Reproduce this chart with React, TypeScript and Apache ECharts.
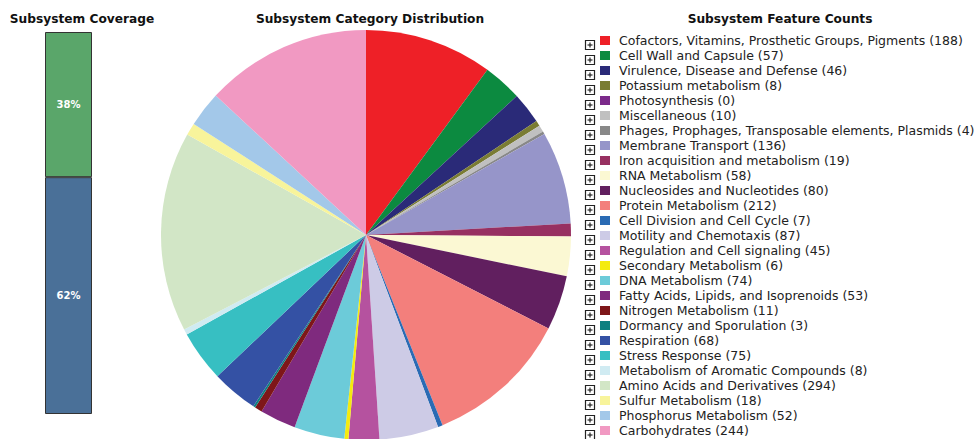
import React, { useEffect, useRef } from "react";
import * as echarts from "echarts";

const categories = [
  "Cofactors, Vitamins, Prosthetic Groups, Pigments",
  "Cell Wall and Capsule",
  "Virulence, Disease and Defense",
  "Potassium metabolism",
  "Photosynthesis",
  "Miscellaneous",
  "Phages, Prophages, Transposable elements, Plasmids",
  "Membrane Transport",
  "Iron acquisition and metabolism",
  "RNA Metabolism",
  "Nucleosides and Nucleotides",
  "Protein Metabolism",
  "Cell Division and Cell Cycle",
  "Motility and Chemotaxis",
  "Regulation and Cell signaling",
  "Secondary Metabolism",
  "DNA Metabolism",
  "Fatty Acids, Lipids, and Isoprenoids",
  "Nitrogen Metabolism",
  "Dormancy and Sporulation",
  "Respiration",
  "Stress Response",
  "Metabolism of Aromatic Compounds",
  "Amino Acids and Derivatives",
  "Sulfur Metabolism",
  "Phosphorus Metabolism",
  "Carbohydrates",
];

const counts = [
  188, 57, 46, 8, 0, 10, 4, 136, 19, 58, 80, 212, 7, 87, 45, 6, 74, 53, 11, 3,
  68, 75, 8, 294, 18, 52, 244,
];

const colors = [
  "#ee2027", "#0c8a40", "#2a2a78", "#7a7c33", "#7b2a8a", "#c0c0c0", "#888888",
  "#9695c9", "#973061", "#fbf8d3", "#611f5f", "#f37f7c", "#2a6bb4", "#cdcbe6",
  "#b5529f", "#f4eb0f", "#6ccbd9", "#7f2a7e", "#7e1619", "#0e8080", "#3451a4",
  "#37bfc2", "#d0ebf2", "#d2e6c6", "#f8f49b", "#a3c8e9", "#f199c2",
];

const coverageLabels = ["Coverage"];
const coverageIn = [38];
const coverageOut = [62];

const FONT = "DejaVu Sans";

export default function App() {
  const ref = useRef<HTMLDivElement>(null);

  useEffect(() => {
    if (!ref.current) return;
    const chart = echarts.init(ref.current, undefined, { renderer: "svg" });

    const legendTop = 33;
    const rowH = 15;
    const boxes: any[] = [];
    categories.forEach((_, i) => {
      const y = legendTop + i * rowH + 7;
      boxes.push({
        type: "group",
        x: 585,
        y: y,
        children: [
          {
            type: "rect",
            shape: { x: 0.5, y: 0.5, width: 9, height: 9 },
            style: { fill: "#fff", stroke: "#222", lineWidth: 1.2 },
          },
          {
            type: "line",
            shape: { x1: 2.5, y1: 5, x2: 7.5, y2: 5 },
            style: { stroke: "#222", lineWidth: 1.2 },
          },
          {
            type: "line",
            shape: { x1: 5, y1: 2.5, x2: 5, y2: 7.5 },
            style: { stroke: "#222", lineWidth: 1.2 },
          },
        ],
      });
    });

    const titleStyle = {
      fontFamily: FONT,
      fontWeight: "bold" as const,
      fontSize: 12.2,
      color: "#111",
    };

    const barLabel = {
      show: true,
      position: "inside",
      formatter: "{c}%",
      color: "#fff",
      fontFamily: FONT,
      fontWeight: "bold",
      fontSize: 10,
    };

    chart.setOption({
      animation: false,
      title: [
        { text: "Subsystem Coverage", left: 82, top: 13, padding: 0, textAlign: "center", textStyle: titleStyle },
        { text: "Subsystem Category Distribution", left: 370, top: 13, padding: 0, textAlign: "center", textStyle: titleStyle },
        { text: "Subsystem Feature Counts", left: 780, top: 13, padding: 0, textAlign: "center", textStyle: titleStyle },
      ],
      grid: { left: 45, top: 32, width: 47, height: 382 },
      xAxis: { type: "category", data: coverageLabels, show: false },
      yAxis: { type: "value", min: 0, max: 100, show: false },
      legend: {
        orient: "vertical",
        left: 600,
        top: legendTop,
        height: 420,
        padding: 0,
        itemWidth: 10,
        itemHeight: 9,
        itemGap: 0,
        icon: "rect",
        selectedMode: false,
        data: categories,
        formatter: (name: string) => {
          const i = categories.indexOf(name);
          return `${name} (${counts[i]})`;
        },
        textStyle: {
          fontFamily: FONT,
          fontSize: 12.5,
          color: "#222",
          lineHeight: 15,
          height: 15,
          padding: [0, 0, 0, 4],
        },
      },
      series: [
        {
          type: "bar",
          stack: "cov",
          data: coverageOut,
          barWidth: 47,
          itemStyle: { color: "#4a7098", borderColor: "#333", borderWidth: 1 },
          label: barLabel,
        },
        {
          type: "bar",
          stack: "cov",
          data: coverageIn,
          barWidth: 47,
          itemStyle: { color: "#5aa66a", borderColor: "#333", borderWidth: 1 },
          label: barLabel,
        },
        {
          type: "pie",
          center: [366, 235],
          radius: 205,
          startAngle: 90,
          clockwise: true,
          label: { show: false },
          labelLine: { show: false },
          emphasis: { disabled: true },
          itemStyle: { borderWidth: 0 },
          data: categories.map((name, i) => ({
            name,
            value: counts[i],
            itemStyle: { color: colors[i] },
          })),
        },
      ],
      graphic: boxes,
    });

    return () => chart.dispose();
  }, []);

  return (
    <div
      ref={ref}
      style={{ position: "fixed", left: 0, top: 0, width: 976, height: 439, background: "#fff" }}
    />
  );
}
